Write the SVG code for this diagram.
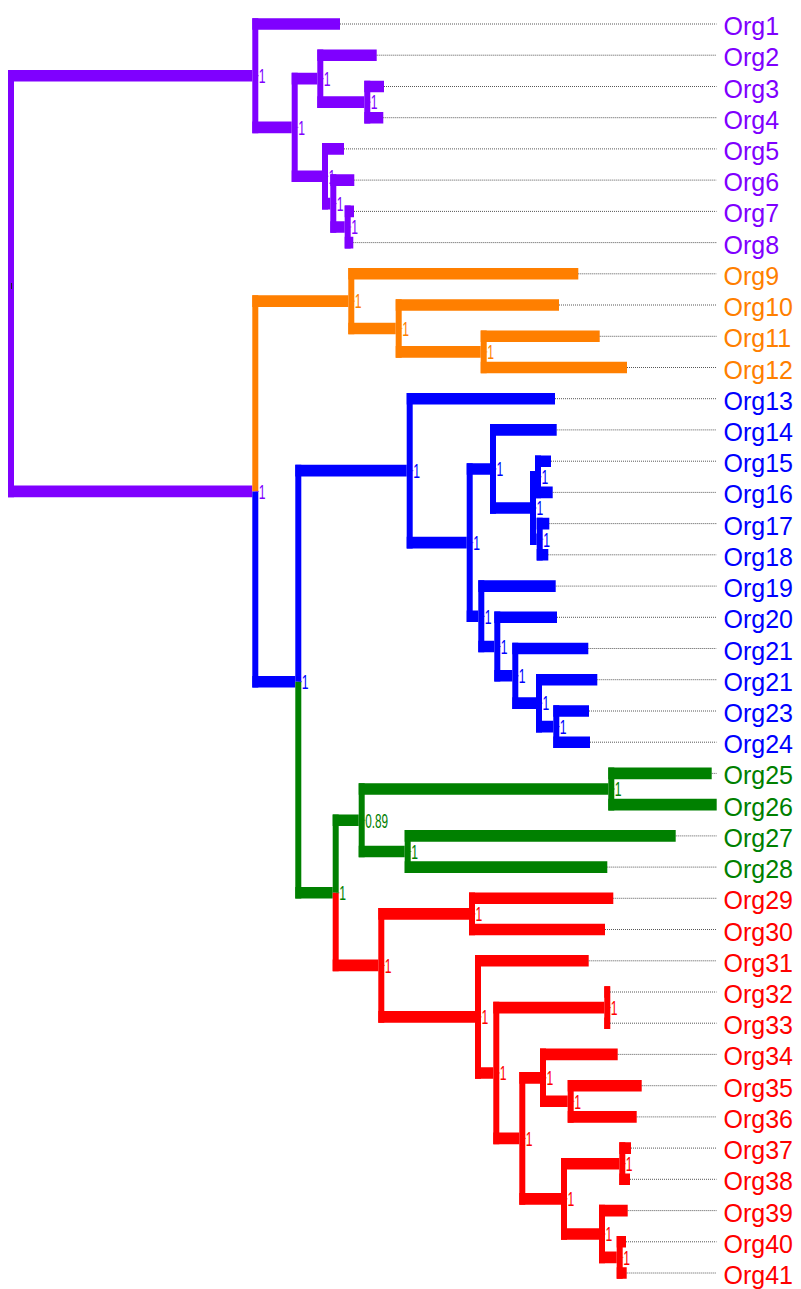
<svg xmlns="http://www.w3.org/2000/svg" width="801" height="1289" viewBox="0 0 801 1289">
<style>
  .h { fill: none; stroke-width: 11.6; stroke-linecap: butt; }
  .v { fill: none; stroke-width: 6; stroke-linecap: butt; }
  .pu { stroke: #7F00FF; }
  .or { stroke: #FF7F00; }
  .bl { stroke: #0000FF; }
  .gr { stroke: #008000; }
  .rd { stroke: #FF0000; }
  .lead { fill: none; stroke: #444; stroke-width: 0.9; stroke-dasharray: 1 1; }
  .tip { font-family: "Liberation Sans", Arial, sans-serif; font-size: 25px; }
  .sup { font-family: "Liberation Sans", Arial, sans-serif; font-size: 21px; }
  .tk { fill: none; stroke-width: 1; opacity: 0.55; }
  .tpu { fill: #7F00FF; } .tor { fill: #FF7F00; } .tbl { fill: #0000FF; } .tgr { fill: #008000; } .trd { fill: #FF0000; }
</style>

<!-- tree branches: horizontal edges and vertical node bars -->
<g id="connectors">
  <g id="clade-purple">
    <path class="h pu" d="M8 75.7H252.3M8 491.4H252.3M252.3 24H340M252.3 127.4H291.7M291.7 78.65H317.3M291.7 176.2H322M317.3 55.2H376.7M317.3 102.1H364.3M364.3 86.5H384M364.3 117.7H383.3M322 148.9H344M322 203.6H330.3M330.3 180.1H354.3M330.3 227H344.7M344.7 211.4H354M344.7 242.6H353.3"/>
    <path class="v pu" d="M11 69.9V497.2M255.3 18.2V133.2M294.7 72.85V182M320.3 49.4V107.9M367.3 80.7V123.5M325 143.1V209.4M333.3 174.3V232.8M347.7 205.6V248.4"/>
  </g>
  <g id="clade-orange">
    <path class="v or" d="M255.3 295.3V491.4M351.3 268V334.25M398.7 299.2V357.7M483.7 330.5V373.3"/>
    <path class="h or" d="M252.3 301.1H348.3M348.3 273.8H578.3M348.3 328.45H395.7M395.7 305H559M395.7 351.9H480.7M480.7 336.3H599.7M480.7 367.5H627"/>
  </g>
  <g id="clade-blue">
    <path class="v bl" d="M255.3 491.4V687.5M298.3 464.85V681.7M409.7 392.9V548.4M469.7 463.15V622.1M493 424.1V513.8M533 471V545M538 455.4V498.2M539.7 517.8V560.6M481.3 580.3V652.35M497.3 611.5V681.6M515.3 642.7V708.95M539 673.9V732.4M556.3 705.2V748"/>
    <path class="h bl" d="M252.3 681.7H295.3M295.3 470.65H406.7M406.7 398.7H555M406.7 542.6H466.7M466.7 468.95H490M466.7 616.3H478.3M490 429.9H556.7M490 508H530M530 476.8H535M530 539.2H536.7M535 461.2H551M535 492.4H552.7M536.7 523.6H549.3M536.7 554.8H548.3M478.3 586.1H555.7M478.3 646.55H494.3M494.3 617.3H557M494.3 675.8H512.3M512.3 648.5H588.3M512.3 703.15H536M536 679.7H597.3M536 726.6H553.3M553.3 711H589M553.3 742.2H590"/>
  </g>
  <g id="clade-green">
    <path class="v gr" d="M298.3 681.7V898.6M335.7 814.45V892.8M361.7 783.2V857.3M611.3 767.6V810.4M407.7 830.1V872.9"/>
    <path class="h gr" d="M295.3 892.8H332.7M332.7 820.25H358.7M358.7 789H608.3M358.7 851.5H404.7M608.3 773.4H711.7M608.3 804.6H716.7M404.7 835.9H675.7M404.7 867.1H607.3"/>
  </g>
  <g id="clade-red">
    <path class="v rd" d="M335.7 892.8V971.2M381.3 908.1V1022.7M472 892.5V935.3M478 955V1078.78M496.3 1001.8V1144.15M607.3 986.2V1029M522.3 1072.05V1204.65M543 1048.6V1107.1M570.7 1079.9V1122.7M564 1157.9V1239.8M622.3 1142.3V1185.1M602 1204.8V1263.2M619.7 1236V1278.8"/>
    <path class="h rd" d="M332.7 965.4H378.3M378.3 913.9H469M378.3 1016.9H475M469 898.3H613.3M469 929.5H605M475 960.8H588.7M475 1072.98H493.3M493.3 1007.6H604.3M493.3 1138.35H519.3M604.3 992H610M604.3 1023.2H610M519.3 1077.85H540M519.3 1198.85H561M540 1054.4H617.7M540 1101.3H567.7M567.7 1085.7H641.7M567.7 1116.9H636.7M561 1163.7H619.3M561 1234H599M619.3 1148.1H631M619.3 1179.3H630M599 1210.6H627.7M599 1257.4H616.7M616.7 1241.8H626M616.7 1273H626.7"/>
  </g>
  <!-- dotted leaders from branch tips to the tip labels -->
  <path class="lead" d="M340 24H716.5M376.7 55.2H716.5M384 86.5H716.5M383.3 117.7H716.5M344 148.9H716.5M354.3 180.1H716.5M354 211.4H716.5M353.3 242.6H716.5M578.3 273.8H716.5M559 305H716.5M599.7 336.3H716.5M627 367.5H716.5M555 398.7H716.5M556.7 429.9H716.5M551 461.2H716.5M552.7 492.4H716.5M549.3 523.6H716.5M548.3 554.8H716.5M555.7 586.1H716.5M557 617.3H716.5M588.3 648.5H716.5M597.3 679.7H716.5M589 711H716.5M590 742.2H716.5M711.7 773.4H716.5M675.7 835.9H716.5M607.3 867.1H716.5M613.3 898.3H716.5M605 929.5H716.5M588.7 960.8H716.5M610 992H716.5M610 1023.2H716.5M617.7 1054.4H716.5M641.7 1085.7H716.5M636.7 1116.9H716.5M631 1148.1H716.5M630 1179.3H716.5M627.7 1210.6H716.5M626 1241.8H716.5M626.7 1273H716.5"/>
</g>

<!-- internal nodes: support values -->
<g id="node-root"><path d="M11.5 283V289" stroke="#222" stroke-width="1"/></g>
<g id="node-A"><path class="tk pu" d="M255.5 75.7H259"/><text class="sup tpu" transform="translate(258.8 83) scale(0.58 1)">1</text></g>
<g id="node-B"><path class="tk pu" d="M295 127.4H298.5"/><text class="sup tpu" transform="translate(298.2 134.7) scale(0.58 1)">1</text></g>
<g id="node-C"><path class="tk pu" d="M320.5 78.65H324"/><text class="sup tpu" transform="translate(323.8 85.95) scale(0.58 1)">1</text></g>
<g id="node-D"><path class="tk pu" d="M367.5 102.1H371"/><text class="sup tpu" transform="translate(370.8 109.4) scale(0.58 1)">1</text></g>
<g id="node-E"><path class="tk pu" d="M325.2 176.2H328.7"/><text class="sup tpu" transform="translate(328.5 183.5) scale(0.58 1)">1</text></g>
<g id="node-F"><path class="tk pu" d="M333.5 203.6H337"/><text class="sup tpu" transform="translate(336.8 210.9) scale(0.58 1)">1</text></g>
<g id="node-G"><path class="tk pu" d="M347.9 227H351.4"/><text class="sup tpu" transform="translate(351.2 234.3) scale(0.58 1)">1</text></g>
<g id="node-H"><path class="tk pu" d="M255.5 491.4H259"/><text class="sup tpu" transform="translate(258.8 498.7) scale(0.58 1)">1</text></g>
<g id="node-I"><path class="tk or" d="M351.5 301.1H355"/><text class="sup tor" transform="translate(354.8 308.4) scale(0.58 1)">1</text></g>
<g id="node-J"><path class="tk or" d="M398.9 328.45H402.4"/><text class="sup tor" transform="translate(402.2 335.75) scale(0.58 1)">1</text></g>
<g id="node-K"><path class="tk or" d="M483.9 351.9H487.4"/><text class="sup tor" transform="translate(487.2 359.2) scale(0.58 1)">1</text></g>
<g id="node-L"><path class="tk bl" d="M298.5 681.7H302"/><text class="sup tbl" transform="translate(301.8 689) scale(0.58 1)">1</text></g>
<g id="node-M"><path class="tk bl" d="M409.9 470.65H413.4"/><text class="sup tbl" transform="translate(413.2 477.95) scale(0.58 1)">1</text></g>
<g id="node-O"><path class="tk bl" d="M469.9 542.6H473.4"/><text class="sup tbl" transform="translate(473.2 549.9) scale(0.58 1)">1</text></g>
<g id="node-P"><path class="tk bl" d="M493.2 468.95H496.7"/><text class="sup tbl" transform="translate(496.5 476.25) scale(0.58 1)">1</text></g>
<g id="node-R"><path class="tk bl" d="M533.2 508H536.7"/><text class="sup tbl" transform="translate(536.5 515.3) scale(0.58 1)">1</text></g>
<g id="node-R1"><path class="tk bl" d="M538.2 476.8H541.7"/><text class="sup tbl" transform="translate(541.5 484.1) scale(0.58 1)">1</text></g>
<g id="node-R2"><path class="tk bl" d="M539.9 539.2H543.4"/><text class="sup tbl" transform="translate(543.2 546.5) scale(0.58 1)">1</text></g>
<g id="node-Q"><path class="tk bl" d="M481.5 616.3H485"/><text class="sup tbl" transform="translate(484.8 623.6) scale(0.58 1)">1</text></g>
<g id="node-S"><path class="tk bl" d="M497.5 646.55H501"/><text class="sup tbl" transform="translate(500.8 653.85) scale(0.58 1)">1</text></g>
<g id="node-T"><path class="tk bl" d="M515.5 675.8H519"/><text class="sup tbl" transform="translate(518.8 683.1) scale(0.58 1)">1</text></g>
<g id="node-U"><path class="tk bl" d="M539.2 703.15H542.7"/><text class="sup tbl" transform="translate(542.5 710.45) scale(0.58 1)">1</text></g>
<g id="node-V"><path class="tk bl" d="M556.5 726.6H560"/><text class="sup tbl" transform="translate(559.8 733.9) scale(0.58 1)">1</text></g>
<g id="node-N"><path class="tk gr" d="M335.9 892.8H339.4"/><text class="sup tgr" transform="translate(339.2 900.1) scale(0.58 1)">1</text></g>
<g id="node-W"><path class="tk gr" d="M361.9 820.25H365.4"/><text class="sup tgr" transform="translate(365.2 827.55) scale(0.56 1)">0.89</text></g>
<g id="node-X"><path class="tk gr" d="M611.5 789H615"/><text class="sup tgr" transform="translate(614.8 796.3) scale(0.58 1)">1</text></g>
<g id="node-Y"><path class="tk gr" d="M407.9 851.5H411.4"/><text class="sup tgr" transform="translate(411.2 858.8) scale(0.58 1)">1</text></g>
<g id="node-Z"><path class="tk rd" d="M381.5 965.4H385"/><text class="sup trd" transform="translate(384.8 972.7) scale(0.58 1)">1</text></g>
<g id="node-AA"><path class="tk rd" d="M472.2 913.9H475.7"/><text class="sup trd" transform="translate(475.5 921.2) scale(0.58 1)">1</text></g>
<g id="node-CC"><path class="tk rd" d="M478.2 1016.9H481.7"/><text class="sup trd" transform="translate(481.5 1024.2) scale(0.58 1)">1</text></g>
<g id="node-BB"><path class="tk rd" d="M496.5 1072.98H500"/><text class="sup trd" transform="translate(499.8 1080.28) scale(0.58 1)">1</text></g>
<g id="node-K2"><path class="tk rd" d="M607.5 1007.6H611"/><text class="sup trd" transform="translate(610.8 1014.9) scale(0.58 1)">1</text></g>
<g id="node-DD"><path class="tk rd" d="M522.5 1138.35H526"/><text class="sup trd" transform="translate(525.8 1145.65) scale(0.58 1)">1</text></g>
<g id="node-EE"><path class="tk rd" d="M543.2 1077.85H546.7"/><text class="sup trd" transform="translate(546.5 1085.15) scale(0.58 1)">1</text></g>
<g id="node-E2"><path class="tk rd" d="M570.9 1101.3H574.4"/><text class="sup trd" transform="translate(574.2 1108.6) scale(0.58 1)">1</text></g>
<g id="node-FF"><path class="tk rd" d="M564.2 1198.85H567.7"/><text class="sup trd" transform="translate(567.5 1206.15) scale(0.58 1)">1</text></g>
<g id="node-GG"><path class="tk rd" d="M622.5 1163.7H626"/><text class="sup trd" transform="translate(625.8 1171) scale(0.58 1)">1</text></g>
<g id="node-HH"><path class="tk rd" d="M602.2 1234H605.7"/><text class="sup trd" transform="translate(605.5 1241.3) scale(0.58 1)">1</text></g>
<g id="node-L2"><path class="tk rd" d="M619.9 1257.4H623.4"/><text class="sup trd" transform="translate(623.2 1264.7) scale(0.58 1)">1</text></g>

<!-- tips: organism labels -->
<g id="tips" class="tip">
  <g id="org1"><text class="tpu" x="723.5" y="35">Org1</text></g>
  <g id="org2"><text class="tpu" x="723.5" y="66.2">Org2</text></g>
  <g id="org3"><text class="tpu" x="723.5" y="97.5">Org3</text></g>
  <g id="org4"><text class="tpu" x="723.5" y="128.7">Org4</text></g>
  <g id="org5"><text class="tpu" x="723.5" y="159.9">Org5</text></g>
  <g id="org6"><text class="tpu" x="723.5" y="191.1">Org6</text></g>
  <g id="org7"><text class="tpu" x="723.5" y="222.4">Org7</text></g>
  <g id="org8"><text class="tpu" x="723.5" y="253.6">Org8</text></g>
  <g id="org9"><text class="tor" x="723.5" y="284.8">Org9</text></g>
  <g id="org10"><text class="tor" x="723.5" y="316">Org10</text></g>
  <g id="org11"><text class="tor" x="723.5" y="347.3">Org11</text></g>
  <g id="org12"><text class="tor" x="723.5" y="378.5">Org12</text></g>
  <g id="org13"><text class="tbl" x="723.5" y="409.7">Org13</text></g>
  <g id="org14"><text class="tbl" x="723.5" y="440.9">Org14</text></g>
  <g id="org15"><text class="tbl" x="723.5" y="472.2">Org15</text></g>
  <g id="org16"><text class="tbl" x="723.5" y="503.4">Org16</text></g>
  <g id="org17"><text class="tbl" x="723.5" y="534.6">Org17</text></g>
  <g id="org18"><text class="tbl" x="723.5" y="565.8">Org18</text></g>
  <g id="org19"><text class="tbl" x="723.5" y="597.1">Org19</text></g>
  <g id="org20"><text class="tbl" x="723.5" y="628.3">Org20</text></g>
  <g id="org21"><text class="tbl" x="723.5" y="659.5">Org21</text></g>
  <g id="org22"><text class="tbl" x="723.5" y="690.7">Org21</text></g>
  <g id="org23"><text class="tbl" x="723.5" y="722">Org23</text></g>
  <g id="org24"><text class="tbl" x="723.5" y="753.2">Org24</text></g>
  <g id="org25"><text class="tgr" x="723.5" y="784.4">Org25</text></g>
  <g id="org26"><text class="tgr" x="723.5" y="815.6">Org26</text></g>
  <g id="org27"><text class="tgr" x="723.5" y="846.9">Org27</text></g>
  <g id="org28"><text class="tgr" x="723.5" y="878.1">Org28</text></g>
  <g id="org29"><text class="trd" x="723.5" y="909.3">Org29</text></g>
  <g id="org30"><text class="trd" x="723.5" y="940.5">Org30</text></g>
  <g id="org31"><text class="trd" x="723.5" y="971.8">Org31</text></g>
  <g id="org32"><text class="trd" x="723.5" y="1003">Org32</text></g>
  <g id="org33"><text class="trd" x="723.5" y="1034.2">Org33</text></g>
  <g id="org34"><text class="trd" x="723.5" y="1065.4">Org34</text></g>
  <g id="org35"><text class="trd" x="723.5" y="1096.7">Org35</text></g>
  <g id="org36"><text class="trd" x="723.5" y="1127.9">Org36</text></g>
  <g id="org37"><text class="trd" x="723.5" y="1159.1">Org37</text></g>
  <g id="org38"><text class="trd" x="723.5" y="1190.3">Org38</text></g>
  <g id="org39"><text class="trd" x="723.5" y="1221.6">Org39</text></g>
  <g id="org40"><text class="trd" x="723.5" y="1252.8">Org40</text></g>
  <g id="org41"><text class="trd" x="723.5" y="1284">Org41</text></g>
</g>
</svg>
